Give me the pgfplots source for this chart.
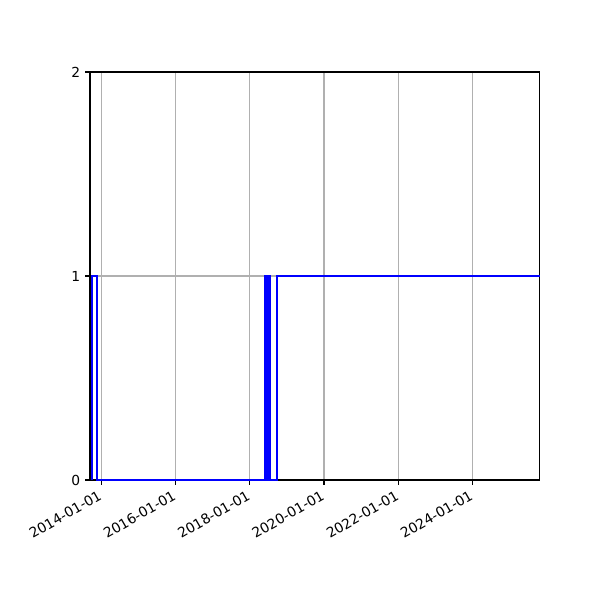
\documentclass[border=0pt]{standalone}
\usepackage{fontspec}
\setmainfont{DejaVu Sans}
\usepackage{pgfplots}
\pgfplotsset{compat=1.18}
\definecolor{gridgray}{HTML}{B0B0B0}
\begin{document}
\begin{tikzpicture}
% x is in days since 2014-01-01
\begin{axis}[
    scale only axis,
    width=325.2pt, height=294.9pt,
    xmin=-111, xmax=4314,
    ymin=0, ymax=2,
    xtick={0,730,1461,2191,2922,3652},
    xticklabels={2014-01-01,2016-01-01,2018-01-01,2020-01-01,2022-01-01,2024-01-01},
    ytick={0,1,2},
    xticklabel style={rotate=30, anchor=north east, inner sep=1.5pt, xshift=-2.5pt},
    /pgf/number format/assume math mode=true,
    tick label style={font=\fontsize{10}{12}\selectfont},
    tick align=outside, tick pos=left,
    major tick length=3.5pt,
    every tick/.style={black, line width=0.8pt},
    axis line style={line width=0.8pt},
    xmajorgrids=true, ymajorgrids=true,
    grid style={gridgray, line width=0.8pt},
    clip=false,
]
\addplot[const plot, color=blue, line width=1.5pt, line join=miter] coordinates {
    (-94,0) (-94,1) (-39,0)
    (1607,1) (1615,0) (1623,1) (1631,0) (1639,1) (1647,0) (1655,1) (1663,0)
    (1725,1) (4314,1)
};
\path (rel axis cs:-0.2,-0.2941) rectangle (rel axis cs:1.1333,1.1765);
\end{axis}
\end{tikzpicture}
\end{document}
